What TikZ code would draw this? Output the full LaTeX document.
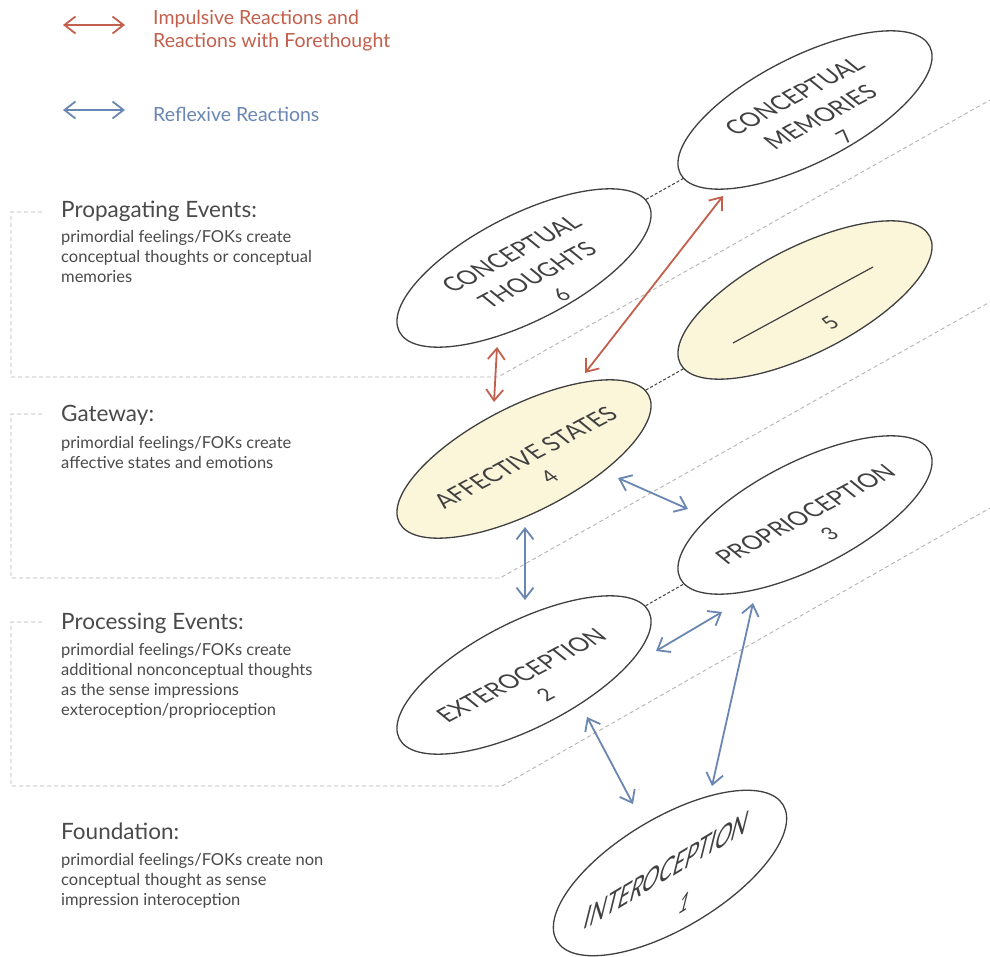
\documentclass[tikz,border=0pt]{standalone}
\usepackage{fontspec}
\setmainfont{Lato}
\usetikzlibrary{arrows.meta,shapes.geometric}

\definecolor{inkgray}{HTML}{404040}
\definecolor{textgray}{HTML}{4A4A4A}
\definecolor{rustred}{HTML}{C2604D}
\definecolor{steelblue}{HTML}{6A86B2}
\definecolor{paleyellow}{HTML}{FBF5DA}
\definecolor{dashgray}{HTML}{B4B4B4}

\newcommand*{\numsz}{\fontsize{20}{20}\selectfont}

\tikzset{
	ring/.style={ellipse, draw=inkgray, line width=1.3pt, fill=white, inner sep=0pt},
	layer/.style={ring, minimum width=280pt, minimum height=106pt, rotate=27},
	affect/.style={layer, fill=paleyellow},
	lbl/.style={text=inkgray, align=center, rotate=28, xslant=-0.42,
		font=\fontsize{22.5}{31}\selectfont},
	lblslant/.style={text=inkgray, rotate=31, xslant=1.0,
		font=\fontsize{24}{26}\selectfont},
	bracket/.style={draw=dashgray, line width=0.9pt, dash pattern=on 4pt off 3pt},
	link/.style={draw=inkgray, line width=1pt, dash pattern=on 3pt off 2pt},
	impulse/.style={draw=rustred, line width=1.8pt,
		{Straight Barb[length=11pt,width=17pt]}-{Straight Barb[length=11pt,width=17pt]}},
	reflex/.style={impulse, draw=steelblue},
	legend/.style={anchor=base west, align=left, inner sep=0pt, font=\fontsize{19.5}{23}\selectfont},
	heading/.style={anchor=base west, inner sep=0pt, text=textgray, font=\fontsize{22.5}{25}\selectfont},
	body/.style={anchor=base west, inner sep=0pt, text=textgray, align=left, font=\fontsize{16.5}{20}\selectfont},
}

\begin{document}
\begin{tikzpicture}[x=1pt, y=-1pt]

\useasboundingbox (0,0) rectangle (990,957);
\fill[white] (0,0) rectangle (990,957);

% legend (base = last line)
\coordinate (rA) at (63,25);
\coordinate (rB) at (125,25);
\draw[impulse] (rA) -- (rB);
\node[legend, text=rustred] (lg1) at (153,48) {Impulsive Reactions and\\Reactions with Forethought};

\coordinate (bA) at (63,110);
\coordinate (bB) at (125,110);
\draw[reflex] (bA) -- (bB);
\node[legend, text=steelblue] (lg2) at (153,122) {Reflexive Reactions};

% level brackets
\draw[bracket] (42,212) -- (11,212) -- (11,377) -- (498,377) -- (990,100);
\draw[bracket] (42,414) -- (11,414) -- (11,578) -- (500,578) -- (990,302);
\draw[bracket] (42,622) -- (11,622) -- (11,786) -- (502,786) -- (990,508);

% level texts
\node[heading] (h3) at (61,218) {Propagating Events:};
\node[body] (d3) at (61,283) {primordial feelings/FOKs create\\conceptual thoughts or conceptual\\memories};

\node[heading] (h2) at (61,421) {Gateway:};
\node[body] (d2) at (61,468) {primordial feelings/FOKs create\\affective states and emotions};

\node[heading] (h1) at (61,629) {Processing Events:};
\node[body] (d1) at (61,715) {primordial feelings/FOKs create\\additional nonconceptual thoughts\\as the sense impressions\\exteroception/proprioception};

\node[heading] (h0) at (61,839) {Foundation:};
\node[body] (d0) at (61,905) {primordial feelings/FOKs create non\\conceptual thought as sense\\impression interoception};

% dashed links behind the ellipses
\coordinate (c7) at (805,110);
\coordinate (c6) at (524,268);
\coordinate (c5) at (805,300);
\coordinate (c4) at (524,459);
\coordinate (c3) at (805,515);
\coordinate (c2) at (524,675);
\draw[link] (c6) -- (c7);
\draw[link] (c4) -- (c5);
\draw[link] (c2) -- (c3);

% ellipses
\node[layer] (n7) at (c7) {};
\node[layer] (n6) at (c6) {};
\node[affect] (n5) at (c5) {};
\node[affect] (n4) at (c4) {};
\node[layer] (n3) at (c3) {};
\node[layer] (n2) at (c2) {};
\node[ring, minimum width=264pt, minimum height=110pt, rotate=31] (n1) at (670,873) {};

% ellipse texts
\node[lbl] (t7) at ([shift={(14,6)}]n7.center) {CONCEPTUAL\\MEMORIES\\[-3pt]{\numsz 7}};
\node[lbl] (t6) at ([shift={(12,6)}]n6.center) {CONCEPTUAL\\THOUGHTS\\[-3pt]{\numsz 6}};
\node[lbl] (t5) at ([shift={(25,23)}]n5.center) {\numsz 5};
\draw[draw=inkgray, line width=1.2pt] ([shift={(-72,43)}]n5.center) -- ([shift={(68,-33)}]n5.center);
\node[lbl] (t4) at ([shift={(13,8)}]n4.center) {AFFECTIVE STATES\\[-3pt]{\numsz 4}};
\node[lbl] (t3) at ([shift={(12,9)}]n3.center) {PROPRIOCEPTION\\[-3pt]{\numsz 3}};
\node[lbl] (t2) at ([shift={(9,10)}]n2.center) {EXTEROCEPTION\\[-3pt]{\numsz 2}};
\node[lblslant] (t1) at ([shift={(-3,-3)}]n1.center) {INTEROCEPTION};
\node[lblslant] (u1) at ([shift={(15,30)}]n1.center) {\numsz 1};

% reactions
\coordinate (a64) at ([shift={(-27,79)}]n6.center);
\coordinate (a46) at ([shift={(-30,-57)}]n4.center);
\coordinate (a47) at ([shift={(61,-86)}]n4.center);
\coordinate (a74) at ([shift={(-82,86)}]n7.center);
\coordinate (a43) at ([shift={(94,19)}]n4.center);
\coordinate (a34) at ([shift={(-117,-6)}]n3.center);
\coordinate (a42) at ([shift={(1,68)}]n4.center);
\coordinate (a24) at ([shift={(1,-75)}]n2.center);
\coordinate (a23) at ([shift={(132,-24)}]n2.center);
\coordinate (a32) at ([shift={(-83,97)}]n3.center);
\coordinate (a21) at ([shift={(63,42)}]n2.center);
\coordinate (a12) at ([shift={(-37,-69)}]n1.center);
\coordinate (a31) at ([shift={(-52,88)}]n3.center);
\coordinate (a13) at ([shift={(42,-87)}]n1.center);

\draw[impulse] (a64) -- (a46);
\draw[impulse] (a47) -- (a74);
\draw[reflex] (a43) -- (a34);
\draw[reflex] (a42) -- (a24);
\draw[reflex] (a23) -- (a32);
\draw[reflex] (a21) -- (a12);
\draw[reflex] (a31) -- (a13);

\end{tikzpicture}
\end{document}
